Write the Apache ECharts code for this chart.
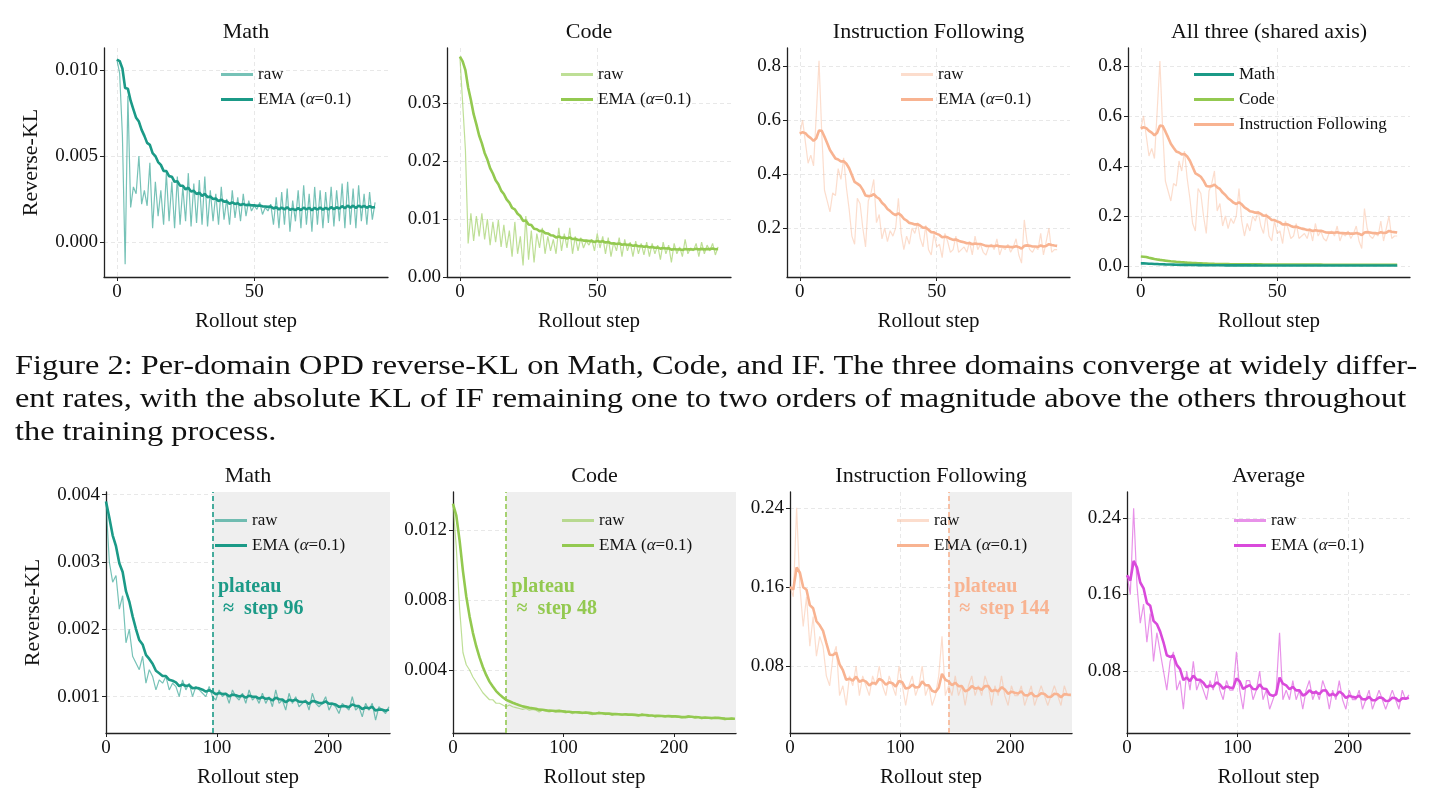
<!DOCTYPE html>
<html><head><meta charset="utf-8">
<script src="https://cdn.jsdelivr.net/npm/echarts@6/dist/echarts.min.js"></script>
<style>html,body{margin:0;padding:0;background:#fff}#c{width:1439px;height:807px}</style>
</head><body><div id="c"></div>
<script>
// ---- data (top row: steps 0..94, every step) ----
const topMathRaw=[0.0106,0.0098,0.0062,-0.0013,0.0085,0.0020,0.0032,0.0028,0.0050,0.0022,0.0030,0.0021,0.0046,0.0008,0.0035,0.0015,0.0030,0.0010,0.0040,0.0012,0.0035,0.0008,0.0038,0.0010,0.0032,0.0012,0.0040,0.0009,0.0034,0.0011,0.0036,0.0010,0.0038,0.0009,0.0030,0.0012,0.0028,0.0010,0.0032,0.0013,0.0025,0.0010,0.0030,0.0014,0.0026,0.0012,0.0028,0.0015,0.0024,0.0018,0.0021,0.0019,0.0023,0.0016,0.0020,0.0018,0.0022,0.0010,0.0026,0.0008,0.0029,0.0010,0.0031,0.0006,0.0024,0.0012,0.0030,0.0008,0.0033,0.0010,0.0028,0.0006,0.0032,0.0010,0.0030,0.0008,0.0029,0.0011,0.0032,0.0009,0.0030,0.0012,0.0034,0.0008,0.0035,0.0010,0.0031,0.0008,0.0033,0.0012,0.0028,0.0010,0.0029,0.0013,0.0023];
const topCodeRaw=[0.0380,0.0300,0.0220,0.0058,0.0110,0.0062,0.0105,0.0070,0.0110,0.0065,0.0100,0.0055,0.0095,0.0060,0.0098,0.0052,0.0090,0.0050,0.0080,0.0035,0.0095,0.0040,0.0070,0.0020,0.0105,0.0030,0.0080,0.0025,0.0075,0.0050,0.0085,0.0040,0.0070,0.0045,0.0065,0.0040,0.0085,0.0045,0.0075,0.0050,0.0085,0.0040,0.0070,0.0045,0.0068,0.0050,0.0062,0.0055,0.0065,0.0045,0.0075,0.0050,0.0070,0.0040,0.0068,0.0035,0.0060,0.0045,0.0068,0.0035,0.0065,0.0045,0.0060,0.0035,0.0062,0.0040,0.0058,0.0038,0.0060,0.0035,0.0058,0.0040,0.0055,0.0030,0.0060,0.0040,0.0055,0.0025,0.0058,0.0040,0.0052,0.0035,0.0065,0.0040,0.0050,0.0045,0.0058,0.0035,0.0060,0.0040,0.0055,0.0045,0.0058,0.0038,0.0052];
const topIFRaw=[0.55,0.60,0.52,0.44,0.47,0.43,0.62,0.82,0.55,0.34,0.30,0.26,0.33,0.32,0.42,0.38,0.46,0.35,0.27,0.17,0.14,0.31,0.29,0.20,0.13,0.30,0.33,0.38,0.22,0.25,0.16,0.20,0.15,0.19,0.17,0.20,0.31,0.18,0.12,0.17,0.14,0.20,0.18,0.22,0.16,0.13,0.21,0.12,0.10,0.18,0.13,0.14,0.09,0.18,0.15,0.11,0.12,0.17,0.11,0.12,0.13,0.11,0.15,0.10,0.17,0.12,0.14,0.11,0.10,0.13,0.14,0.12,0.16,0.10,0.13,0.12,0.14,0.11,0.13,0.16,0.10,0.07,0.23,0.15,0.12,0.11,0.13,0.12,0.18,0.10,0.15,0.20,0.11,0.12,0.12];
// ---- bottom row: steps 0,3,6,...,255 ----
const botMathRaw=[0.0039,0.0030,0.0027,0.0028,0.0023,0.0025,0.0018,0.0020,0.0016,0.0015,0.0014,0.0016,0.0012,0.0014,0.0013,0.0011,0.00125,0.0012,0.0013,0.0011,0.0012,0.00115,0.0010,0.00125,0.0011,0.0012,0.0010,0.00115,0.0011,0.00105,0.0010,0.00115,0.0010,0.00095,0.0011,0.0010,0.00105,0.0009,0.0011,0.0010,0.00095,0.00105,0.0009,0.0011,0.00095,0.0010,0.0009,0.00105,0.0009,0.0010,0.00085,0.0011,0.0009,0.00095,0.0008,0.00105,0.0009,0.0010,0.00085,0.0009,0.00095,0.0008,0.00105,0.0009,0.00085,0.0009,0.0010,0.0008,0.0009,0.00085,0.00075,0.0009,0.00085,0.0008,0.0010,0.0008,0.00085,0.0007,0.0009,0.0008,0.0009,0.00065,0.00085,0.0008,0.00075,0.00085];
const botCodeRaw=[0.0135,0.0110,0.0075,0.0050,0.0043,0.0040,0.0036,0.0033,0.0030,0.0027,0.0025,0.0023,0.0023,0.0021,0.0021,0.0020,0.0019,0.0020,0.0019,0.00185,0.0018,0.00175,0.0018,0.0017,0.00175,0.0017,0.0016,0.0017,0.00165,0.0016,0.00165,0.0016,0.0017,0.0016,0.00155,0.0016,0.0015,0.0016,0.00155,0.0015,0.0016,0.0015,0.00145,0.0015,0.0016,0.0015,0.00145,0.0015,0.0014,0.0015,0.00145,0.0014,0.0015,0.0014,0.00145,0.0014,0.00135,0.0015,0.0014,0.00135,0.0014,0.0013,0.0014,0.00135,0.0013,0.0014,0.0013,0.00135,0.0013,0.00125,0.0013,0.0014,0.0013,0.00125,0.0013,0.0012,0.0013,0.00125,0.0012,0.0013,0.00125,0.0012,0.00115,0.0012,0.00125,0.0012];
const botIFRaw=[0.16,0.15,0.24,0.16,0.12,0.15,0.10,0.13,0.09,0.11,0.10,0.07,0.06,0.09,0.10,0.05,0.06,0.04,0.07,0.06,0.08,0.05,0.07,0.06,0.05,0.07,0.06,0.08,0.06,0.05,0.07,0.06,0.05,0.08,0.06,0.04,0.06,0.07,0.05,0.06,0.08,0.05,0.06,0.04,0.05,0.07,0.11,0.05,0.06,0.05,0.07,0.05,0.06,0.04,0.06,0.07,0.05,0.06,0.05,0.07,0.06,0.04,0.06,0.05,0.07,0.05,0.04,0.06,0.05,0.05,0.06,0.04,0.05,0.06,0.04,0.05,0.06,0.05,0.04,0.05,0.06,0.05,0.04,0.06,0.05,0.05];
const botAvgRaw=[0.18,0.16,0.25,0.17,0.13,0.15,0.11,0.14,0.09,0.12,0.10,0.08,0.06,0.09,0.10,0.06,0.07,0.04,0.08,0.06,0.09,0.06,0.07,0.06,0.05,0.07,0.06,0.08,0.06,0.05,0.07,0.06,0.06,0.10,0.06,0.04,0.07,0.07,0.05,0.06,0.08,0.05,0.06,0.04,0.05,0.06,0.12,0.05,0.06,0.05,0.07,0.05,0.06,0.04,0.06,0.07,0.05,0.06,0.05,0.07,0.06,0.04,0.06,0.05,0.07,0.05,0.04,0.06,0.05,0.05,0.06,0.04,0.05,0.06,0.04,0.05,0.06,0.05,0.04,0.05,0.06,0.05,0.04,0.06,0.05,0.055];
const plateauSteps=[96,48,144];
const titlesTop=['Math','Code','Instruction Following','All three (shared axis)'];
const titlesBot=['Math','Code','Instruction Following','Average'];
const topYTicks=[[0,0.005,0.01],[0,0.01,0.02,0.03],[0.2,0.4,0.6,0.8],[0,0.2,0.4,0.6,0.8]];
const botYTicks=[[0.001,0.002,0.003,0.004],[0.004,0.008,0.012],[0.08,0.16,0.24],[0.08,0.16,0.24]];
const topXTicks=[0,50], botXTicks=[0,100,200];

// ---- helpers ----
function ema(arr,a){const o=[];let e=arr[0];arr.forEach((v,i)=>{e=i?a*v+(1-a)*e:v;o.push(e);});return o;}
const aBot=1-Math.pow(0.9,3);
const pts=(arr,step)=>arr.map((v,i)=>[i*step,v]);
const C={math:'#1b9a87',code:'#93c950',inf:'#f8b391',avg:'#d94adb'};
const FONT='Liberation Serif';

const topG=[[104,284],[447,284],[787,283],[1128,282]];
const botG=[[106,284],[453,283],[790,282],[1127,283]];
const topY=[[-0.00204,0.01128],[0,0.0395],[0.0185,0.867],[-0.044,0.872]];
const botY=[[0.00046,0.00404],[0.0004,0.01417],[0.0122,0.256],[0.0152,0.267]];
const fmtTop=[v=>v.toFixed(3),v=>v.toFixed(2),v=>v.toFixed(1),v=>v.toFixed(1)];
const fmtBot=[v=>v.toFixed(3),v=>v.toFixed(3),v=>v.toFixed(2),v=>v.toFixed(2)];

const grid=[],xAxis=[],yAxis=[],series=[],legend=[];
function addAxes(i,g,top,h,xr,xt,yr,yt,fmt,yname){
  grid.push({left:g[0],width:g[1],top:top,height:h});
  const axLine={show:true,lineStyle:{color:'#222',width:1.3}};
  const split={show:true,lineStyle:{type:[4,3],color:'#e2e2e2',width:0.8}};
  xAxis.push({type:'value',gridIndex:i,min:xr[0],max:xr[1],axisLine:{...axLine,onZero:false},
    axisTick:{show:true,customValues:xt,length:4,lineStyle:{color:'#222'}},
    axisLabel:{customValues:xt,fontFamily:FONT,fontSize:19,color:'#111',margin:6},
    splitLine:split,name:'Rollout step',nameLocation:'middle',nameGap:34,nameTextStyle:{fontFamily:FONT,fontSize:21,color:'#111'}});
  yAxis.push({type:'value',gridIndex:i,min:yr[0],max:yr[1],axisLine:{...axLine,onZero:false},
    axisTick:{show:true,customValues:yt,length:4,lineStyle:{color:'#222'}},
    axisLabel:{customValues:yt,formatter:fmt,fontFamily:FONT,fontSize:19,color:'#111',margin:6},
    splitLine:split,name:yname||'',nameLocation:'middle',nameGap:62,nameTextStyle:{fontFamily:FONT,fontSize:22,color:'#111'}});
}
const lbl=(n)=>n.split('#')[0];
const legendFmt=n=>{const s=lbl(n);return s.startsWith('EMA')?'EMA ({i|α}=0.1)':s;};
function line(name,i,data,color,w,op,z){series.push({type:'line',name,xAxisIndex:i,yAxisIndex:i,data,showSymbol:false,symbol:'none',
  lineStyle:{color,width:w,opacity:op},itemStyle:{color,opacity:op},z:z||2,animation:false});}
function addLegend(i,names,left,top,ops){
  legend.push({orient:'vertical',left,top,itemWidth:32,itemHeight:3,itemGap:8,icon:'rect',
    data:names.map((n,k)=>({name:n,itemStyle:{opacity:ops[k]}})),formatter:legendFmt,
    textStyle:{fontFamily:FONT,fontSize:17,color:'#111',rich:{i:{fontFamily:FONT,fontStyle:'italic',fontSize:17}}}});
}

const topRaw=[topMathRaw,topCodeRaw,topIFRaw];
const topCol=[C.math,C.code,C.inf];
const titles=[];
for(let i=0;i<4;i++){
  addAxes(i,topG[i],48,229,[-4.7,98.7],topXTicks,topY[i],topYTicks[i],fmtTop[i],i===0?'Reverse-KL':'');
  titles.push({text:titlesTop[i],x:topG[i][0]+topG[i][1]/2,y:32});
}
for(let i=0;i<3;i++){
  line('raw#'+i,i,pts(topRaw[i],1),topCol[i],1.2,i===2?0.45:0.6,2);
  line('EMA#'+i,i,pts(ema(topRaw[i],0.1),1),topCol[i],2.6,1,3);
  addLegend(i,['raw#'+i,'EMA#'+i],[216,556,896][i],61,[i===2?0.45:0.6,1]);
}
line('rawIF#3',3,pts(topIFRaw,1),C.inf,1.2,0.45,2);
line('Math',3,pts(ema(topMathRaw,0.1),1),C.math,2.6,1,4);
line('Code',3,pts(ema(topCodeRaw,0.1),1),C.code,2.6,1,3);
line('Instruction Following',3,pts(ema(topIFRaw,0.1),1),C.inf,2.6,1,3);
legend.push({orient:'vertical',left:1189,top:61,itemWidth:40,itemHeight:3,itemGap:8,icon:'rect',data:['Math','Code','Instruction Following'],
  textStyle:{fontFamily:FONT,fontSize:17,color:'#111'}});

const botRaw=[botMathRaw,botCodeRaw,botIFRaw,botAvgRaw];
const botCol=[C.math,C.code,C.inf,C.avg];
for(let i=0;i<4;i++){
  const gi=i+4;
  addAxes(gi,botG[i],492,241,[0,256],botXTicks,botY[i],botYTicks[i],fmtBot[i],i===0?'Reverse-KL':'');
  titles.push({text:titlesBot[i],x:botG[i][0]+botG[i][1]/2,y:476});
  const op=i===2?0.45:0.6;
  line('raw#'+gi,gi,pts(botRaw[i],3),botCol[i],1.2,op,2);
  line('EMA#'+gi,gi,pts(ema(botRaw[i],aBot),3),botCol[i],2.6,1,3);
  addLegend(gi,['raw#'+gi,'EMA#'+gi],[210,557,892,1229][i],507,[op,1]);
  if(i<3){
    const s=series[series.length-1];
    const yv=botY[i][0]+0.56*(botY[i][1]-botY[i][0]);
    s.markArea={silent:true,itemStyle:{color:'#efefef'},data:[[{xAxis:plateauSteps[i]},{xAxis:256}]]};
    s.markLine={silent:true,symbol:'none',label:{show:false},lineStyle:{color:botCol[i],type:[5,3],width:1.6},data:[{xAxis:plateauSteps[i]}]};
    s.markPoint={silent:true,symbol:'circle',symbolSize:1,itemStyle:{color:'rgba(0,0,0,0)'},
      data:[{coord:[plateauSteps[i],yv]}],
      label:{show:true,position:'right',distance:5,formatter:'plateau\n ≈  step '+plateauSteps[i],
        color:botCol[i],fontFamily:FONT,fontWeight:'bold',fontSize:20,lineHeight:22,align:'left'}};
  }
}

const chart=echarts.init(document.getElementById('c'),null,{renderer:'canvas'});
chart.setOption({backgroundColor:'#fff',animation:false,grid,xAxis,yAxis,series,legend});

const g=[];
titles.forEach(t=>g.push({type:'text',x:t.x,y:t.y,style:{text:t.text,font:'22px "'+FONT+'"',fill:'#111',align:'center',verticalAlign:'middle'}}));
const cap=['Figure 2: Per-domain OPD reverse-KL on Math, Code, and IF. The three domains converge at widely differ-',
'ent rates, with the absolute KL of IF remaining one to two orders of magnitude above the others throughout',
'the training process.'];
cap.forEach((t,k)=>g.push({type:'text',x:15,y:367+k*33,scaleX:1.155,style:{text:t,font:'28px "'+FONT+'"',fill:'#111',verticalAlign:'middle'}}));
chart.setOption({graphic:g});
</script></body></html>
